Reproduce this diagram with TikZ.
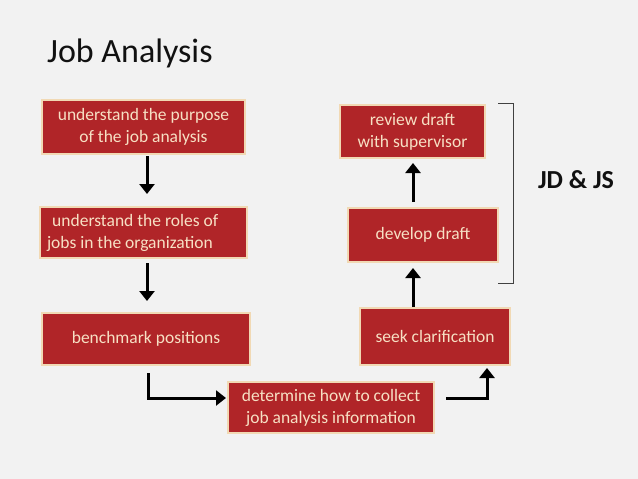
\documentclass[tikz,border=0pt]{standalone}
\usepackage{fontspec}
\setmainfont{Carlito}
\usetikzlibrary{arrows.meta,calc}
\definecolor{bg}{HTML}{F2F2F2}
\definecolor{boxred}{HTML}{B02528}
\definecolor{boxedge}{HTML}{F1D9B4}
\definecolor{boxtext}{HTML}{F7E0C4}
\definecolor{ink}{HTML}{111111}
\begin{document}
\begin{tikzpicture}[x=1pt,y=-1pt,
  stepbox/.style={draw=boxedge,line width=2pt,fill=boxred,text=boxtext,inner sep=0pt,
    font=\fontsize{17.5}{22}\selectfont,align=center},
  arr/.style={draw=black,line width=3pt,-{Triangle[length=10pt,width=15pt]}},
]
\fill[bg] (0,0) rectangle (638,479);
\useasboundingbox (0,0) rectangle (638,479);
\node[anchor=base west,font=\fontsize{34}{40}\selectfont,text=ink,inner sep=0pt] (title) at (47,62) {Job Analysis};

\node[stepbox,minimum width=203pt,minimum height=54pt] (b1) at (143.5,127) {understand the purpose\\of the job analysis};
\node[stepbox,minimum width=207pt,minimum height=51pt,text width=193pt,align=flush left] (b2) at (143.5,232.5) {\hspace{0.3em}understand the roles of\\jobs in the organization};
\node[stepbox,minimum width=208pt,minimum height=52pt] (b3) at (146,339) {benchmark positions};
\node[stepbox,minimum width=206pt,minimum height=51pt] (b4) at (331,407.5) {determine how to collect\\job analysis information};
\node[stepbox,minimum width=150pt,minimum height=57pt] (b5) at (435,336.5) {seek clarification};
\node[stepbox,minimum width=150pt,minimum height=54pt] (b6) at (423,235) {develop draft};
\node[stepbox,minimum width=145pt,minimum height=53pt] (b7) at (412.5,131.5) {review draft\\with supervisor};

\coordinate (xl) at (147,0);
\coordinate (xr) at (413,0);
\draw[arr,shorten <=1pt,shorten >=12pt] (b1.south -| xl) -- (b2.north -| xl);
\draw[arr,shorten <=4pt,shorten >=11pt] (b2.south -| xl) -- (b3.north -| xl);
\draw[arr] ([xshift=2pt,yshift=-7pt]b3.south) |- ([xshift=-1pt,yshift=9.5pt]b4.west);
\draw[arr] ([xshift=11pt,yshift=9.5pt]b4.east) -| ([xshift=52pt,yshift=-2pt]b5.south);
\draw[arr,shorten >=5pt] (b5.north -| xr) -- (b6.south -| xr);
\draw[arr,shorten <=5pt,shorten >=4pt] (b6.north -| xr) -- (b7.south -| xr);

\draw[draw=ink!80,line width=1pt] (498,103) -- (513,103) -- (513,283) -- (498,283);
\node[font=\fontsize{26}{30}\selectfont\bfseries,text=ink,inner sep=0pt] (jd) at (576,180) {JD \& JS};
\end{tikzpicture}
\end{document}
